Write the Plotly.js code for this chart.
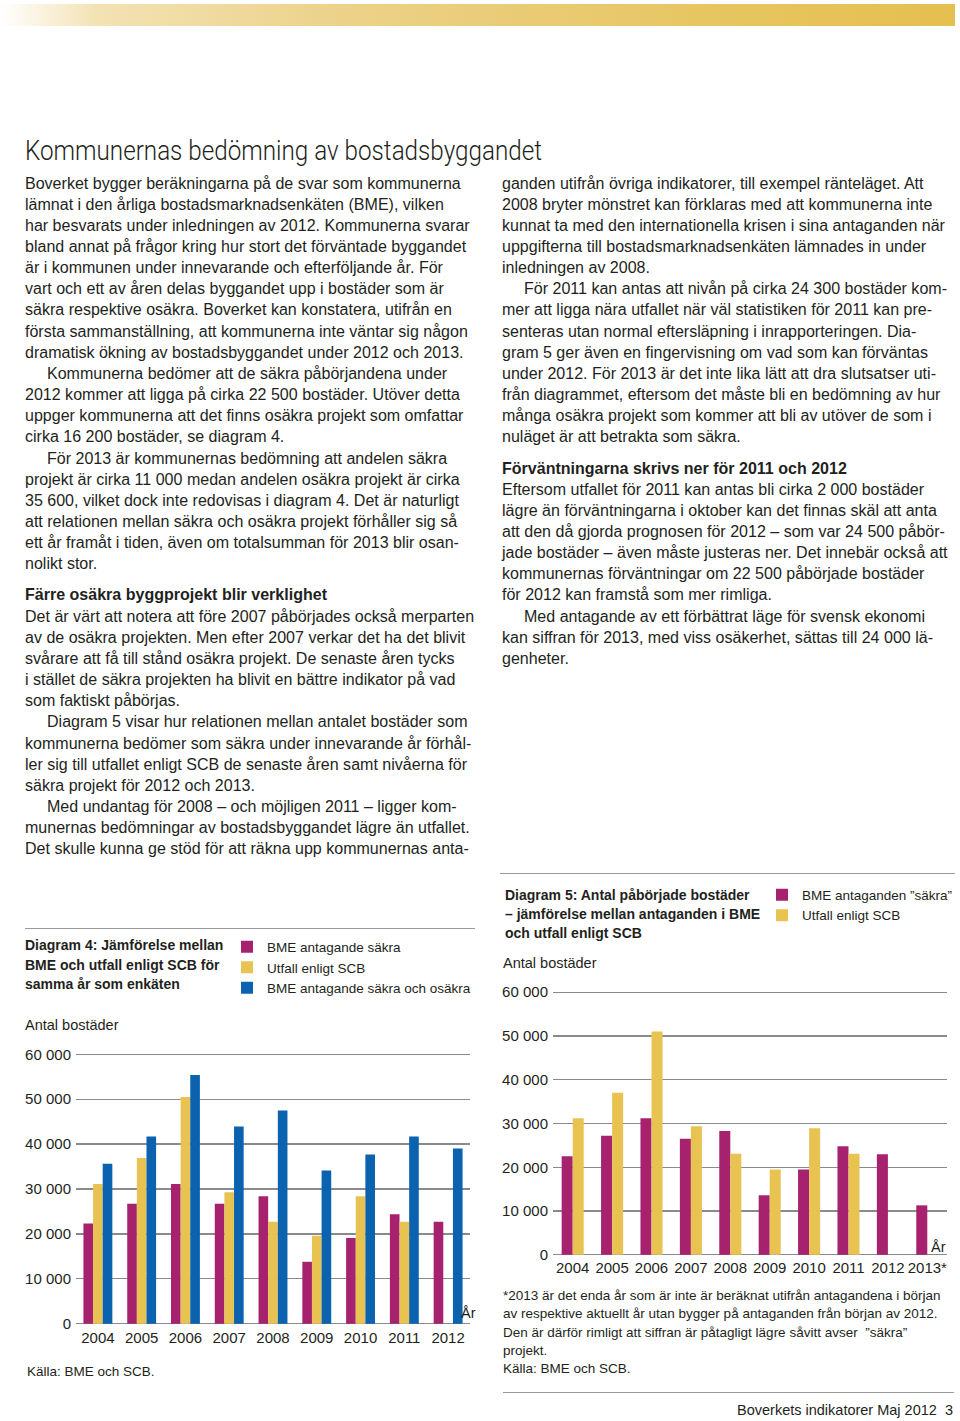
<!DOCTYPE html>
<html><head><meta charset="utf-8">
<script src="https://cdn.plot.ly/plotly-3.0.1.min.js"></script>
<style>
html,body{margin:0;padding:0;background:#fff;overflow:hidden;}
#page{position:relative;width:960px;height:1421px;overflow:hidden;font-family:"Liberation Sans",Arial,sans-serif;color:#231f20;}
#bar{position:absolute;left:0;top:4px;width:955px;height:22px;background:linear-gradient(to right,#ffffff 0%,#f3e2b4 10%,#ecd28a 35%,#e7c560 75%,#e5bf4f 100%);}
#title{position:absolute;left:25px;top:134px;white-space:nowrap;font-family:Roboto,"Liberation Sans",sans-serif;font-weight:300;font-size:27px;line-height:34px;transform-origin:left center;color:#231f20;}
.col{position:absolute;top:172.5px;white-space:nowrap;line-height:21.15px;}
.col p{margin:0;}
.col p.i{text-indent:22px;}
.col p.h{font-weight:bold;margin-top:10px;}
.rule{position:absolute;height:0;border-top:1px solid #9a9a9a;}
#footer{position:absolute;right:7px;top:1401px;font-size:14.5px;line-height:18px;white-space:nowrap;}
.chart{position:absolute;}
</style>
</head><body>
<div id="page">
  <div id="bar"></div>
  <div id="title">Kommunernas bedömning av bostadsbyggandet</div>
  <div class="col" id="colL" style="left:25px">
    <p>Boverket bygger beräkningarna på de svar som kommunerna<br>lämnat i den årliga bostadsmarknadsenkäten (BME), vilken<br>har besvarats under inledningen av 2012. Kommunerna svarar<br>bland annat på frågor kring hur stort det förväntade byggandet<br>är i kommunen under innevarande och efterföljande år. För<br>vart och ett av åren delas byggandet upp i bostäder som är<br>säkra respektive osäkra. Boverket kan konstatera, utifrån en<br>första sammanställning, att kommunerna inte väntar sig någon<br>dramatisk ökning av bostadsbyggandet under 2012 och 2013.</p>
    <p class="i">Kommunerna bedömer att de säkra påbörjandena under<br>2012 kommer att ligga på cirka 22 500 bostäder. Utöver detta<br>uppger kommunerna att det finns osäkra projekt som omfattar<br>cirka 16 200 bostäder, se diagram 4.</p>
    <p class="i">För 2013 är kommunernas bedömning att andelen säkra<br>projekt är cirka 11 000 medan andelen osäkra projekt är cirka<br>35 600, vilket dock inte redovisas i diagram 4. Det är naturligt<br>att relationen mellan säkra och osäkra projekt förhåller sig så<br>ett år framåt i tiden, även om totalsumman för 2013 blir osan-<br>nolikt stor.</p>
    <p class="h">Färre osäkra byggprojekt blir verklighet</p>
    <p>Det är värt att notera att före 2007 påbörjades också merparten<br>av de osäkra projekten. Men efter 2007 verkar det ha det blivit<br>svårare att få till stånd osäkra projekt. De senaste åren tycks<br>i stället de säkra projekten ha blivit en bättre indikator på vad<br>som faktiskt påbörjas.</p>
    <p class="i">Diagram 5 visar hur relationen mellan antalet bostäder som<br>kommunerna bedömer som säkra under innevarande år förhål-<br>ler sig till utfallet enligt SCB de senaste åren samt nivåerna för<br>säkra projekt för 2012 och 2013.</p>
    <p class="i">Med undantag för 2008 – och möjligen 2011 – ligger kom-<br>munernas bedömningar av bostadsbyggandet lägre än utfallet.<br>Det skulle kunna ge stöd för att räkna upp kommunernas anta-</p>
  </div>
  <div class="col" id="colR" style="left:502px">
    <p>ganden utifrån övriga indikatorer, till exempel ränteläget. Att<br>2008 bryter mönstret kan förklaras med att kommunerna inte<br>kunnat ta med den internationella krisen i sina antaganden när<br>uppgifterna till bostadsmarknadsenkäten lämnades in under<br>inledningen av 2008.</p>
    <p class="i">För 2011 kan antas att nivån på cirka 24 300 bostäder kom-<br>mer att ligga nära utfallet när väl statistiken för 2011 kan pre-<br>senteras utan normal eftersläpning i inrapporteringen. Dia-<br>gram 5 ger även en fingervisning om vad som kan förväntas<br>under 2012. För 2013 är det inte lika lätt att dra slutsatser uti-<br>från diagrammet, eftersom det måste bli en bedömning av hur<br>många osäkra projekt som kommer att bli av utöver de som i<br>nuläget är att betrakta som säkra.</p>
    <p class="h">Förväntningarna skrivs ner för 2011 och 2012</p>
    <p>Eftersom utfallet för 2011 kan antas bli cirka 2 000 bostäder<br>lägre än förväntningarna i oktober kan det finnas skäl att anta<br>att den då gjorda prognosen för 2012 – som var 24 500 påbör-<br>jade bostäder – även måste justeras ner. Det innebär också att<br>kommunernas förväntningar om 22 500 påbörjade bostäder<br>för 2012 kan framstå som mer rimliga.</p>
    <p class="i">Med antagande av ett förbättrat läge för svensk ekonomi<br>kan siffran för 2013, med viss osäkerhet, sättas till 24 000 lä-<br>genheter.</p>
  </div>
  <div class="rule" style="left:500px;width:455px;top:873px"></div>
  <div class="rule" style="left:25px;width:450px;top:928px"></div>
  <div class="rule" style="left:503px;width:451px;top:1392px"></div>
  <div id="chart4" class="chart" style="left:0px;top:930px;width:540px;height:460px"></div>
  <div id="chart5" class="chart" style="left:490px;top:868px;width:540px;height:517px"></div>
  <div id="footer">Boverkets indikatorer Maj 2012&nbsp;&nbsp;3</div>
</div>
<script>
// ---------- data ----------
const years4 = ['2004','2005','2006','2007','2008','2009','2010','2011','2012'];
const bmeSakra4 = [22300, 26700, 31100, 26700, 28400, 13800, 19100, 24400, 22700];
const utfallSCB4 = [31100, 36900, 50500, 29300, 22700, 19600, 28400, 22700, null];
const bmeSakraOsakra4 = [35600, 41700, 55400, 43900, 47500, 34100, 37700, 41700, 39000];

const years5 = ['2004','2005','2006','2007','2008','2009','2010','2011','2012','2013*'];
const bmeSakra5 = [22500, 27200, 31200, 26500, 28300, 13600, 19500, 24800, 23000, 11300];
const utfallSCB5 = [31200, 37000, 51000, 29400, 23100, 19500, 28900, 23100, null, null];

const yTickVals = [0, 10000, 20000, 30000, 40000, 50000, 60000];
const yTickText = ['0', '10 000', '20 000', '30 000', '40 000', '50 000', '60 000'];

const names4 = ['BME antagande säkra', 'Utfall enligt SCB', 'BME antagande säkra och osäkra'];
const names5 = ['BME antaganden ”säkra”', 'Utfall enligt SCB'];
const title4 = ['Diagram 4: Jämförelse mellan', 'BME och utfall enligt SCB för', 'samma år som enkäten'];
const title5 = ['Diagram 5: Antal påbörjade bostäder', '– jämförelse mellan antaganden i BME', 'och utfall enligt SCB'];
const note5 = ['*2013 är det enda år som är inte är beräknat utifrån antagandena i början',
  'av respektive aktuellt år utan bygger på antaganden från början av 2012.',
  'Den är därför rimligt att siffran är påtagligt lägre såvitt avser  ”säkra”',
  'projekt.', 'Källa: BME och SCB.'];

// ---------- styles ----------
const MAG = '#a6226f', YEL = '#e8c352', BLU = '#0b62ae', TXT = '#231f20', GRID = '#8a8a8a';
const FONT = '"Liberation Sans", Arial, sans-serif';
const YMAX = 60000, YPAD = 500;

// fit body font
(function(){
  const c = document.createElement('canvas').getContext('2d');
  c.font = '100px "Liberation Sans"';
  const w = c.measureText('Boverket bygger beräkningarna på de svar som kommunerna').width;
  const fs = 100 * 436 / w;
  document.getElementById('colL').style.fontSize = fs + 'px';
  document.getElementById('colR').style.fontSize = fs + 'px';
  const t = document.getElementById('title');
  const tw = t.getBoundingClientRect().width;
  t.style.transform = 'scaleX(' + (517 / tw) + ')';
})();

function makeChart(id, box, cats, series, names, colors, bargap, titleLines, notes) {
  const W = box.w, H = box.h;
  const k = (box.yZero - box.yTop) / YMAX;
  const py0 = box.yTop - YPAD * k, py1 = box.yZero + YPAD * k;
  const l = box.px0 - box.left, r = box.left + W - box.px1;
  const t = py0 - box.top, b = box.top + H - py1;
  const pw = box.px1 - box.px0, ph = py1 - py0;
  const X = px => (px - box.px0) / pw;
  const Y = py => (py1 - py) / ph;
  const traces = series.map((s, i) => ({
    type: 'bar', x: cats, y: s, name: names[i],
    marker: {color: colors[i], line: {width: 0}}, hoverinfo: 'skip'
  }));
  const ann = [];
  titleLines.forEach((s, i) => ann.push({xref:'paper', yref:'paper', x: X(box.titleX), y: Y(box.titleY[i]),
    xanchor:'left', yanchor:'middle', showarrow:false, text:'<b>' + s + '</b>', font:{size:14, color:TXT, family:FONT}}));
  ann.push({xref:'paper', yref:'paper', x: X(box.ylabX), y: Y(box.ylabY), xanchor:'left', yanchor:'middle',
    showarrow:false, text:'Antal bostäder', font:{size:14.5, color:TXT, family:FONT}});
  ann.push({xref:'paper', yref:'paper', x: X(box.arX), y: Y(box.arY), xanchor:'center', yanchor:'middle',
    showarrow:false, text:'År', font:{size:14.5, color:TXT, family:FONT}});
  notes.forEach((s, i) => ann.push({xref:'paper', yref:'paper', x: X(box.noteX), y: Y(box.noteY[i]),
    xanchor:'left', yanchor:'middle', showarrow:false, text:s, font:{size:13.5, color:TXT, family:FONT}}));
  const layout = {
    width: W, height: H, margin: {l: l, r: r, t: t, b: b, pad: 0, autoexpand: false},
    paper_bgcolor: 'rgba(0,0,0,0)', plot_bgcolor: 'rgba(0,0,0,0)',
    barmode: 'group', bargap: bargap, bargroupgap: 0,
    font: {family: FONT, color: TXT, size: 15},
    showlegend: true,
    legend: {x: X(box.legX), y: Y(box.legY), xanchor: 'left', yanchor: 'top', orientation: 'v',
      font: {size: 13.5, color: TXT, family: FONT}, bgcolor: 'rgba(0,0,0,0)', borderwidth: 0,
      tracegroupgap: 0, traceorder: 'normal', itemclick: false},
    xaxis: {type: 'category', showgrid: false, showline: false, zeroline: false, ticks: '',
      tickangle: 0, automargin: false, ticklabelstandoff: box.standoff,
      tickfont: {size: 15, color: TXT}, fixedrange: true},
    yaxis: {range: [-YPAD, YMAX + YPAD], tickmode: 'array', tickvals: yTickVals, ticktext: yTickText,
      showgrid: true, gridcolor: GRID, gridwidth: 1.3, zeroline: false, showline: false, ticks: '',
      ticklabelstandoff: 4, automargin: false, tickfont: {size: 15, color: TXT}, fixedrange: true},
    annotations: ann
  };
  Plotly.newPlot(id, traces, layout, {staticPlot: true, displayModeBar: false});
}

makeChart('chart4', {left:0, top:930, w:540, h:460, px0:76, px1:470, yTop:1054, yZero:1324, standoff:1,
  titleX:23, titleY:[945, 965, 984], ylabX:23, ylabY:1025, arX:468, arY:1313,
  legX:227, legY:931, noteX:25, noteY:[1372]},
  years4, [bmeSakra4, utfallSCB4, bmeSakraOsakra4], names4, [MAG, YEL, BLU], 0.34,
  title4, ['Källa: BME och SCB.']);

makeChart('chart5', {left:490, top:868, w:540, h:517, px0:553, px1:947, yTop:992, yZero:1255, standoff:0,
  titleX:503, titleY:[895, 914, 933], ylabX:501, ylabY:963, arX:938, arY:1247,
  legX:762, legY:879, noteX:501, noteY:[1296, 1314, 1333, 1351, 1369]},
  years5, [bmeSakra5, utfallSCB5], names5, [MAG, YEL], 0.44,
  title5, note5);
</script>
</body></html>
